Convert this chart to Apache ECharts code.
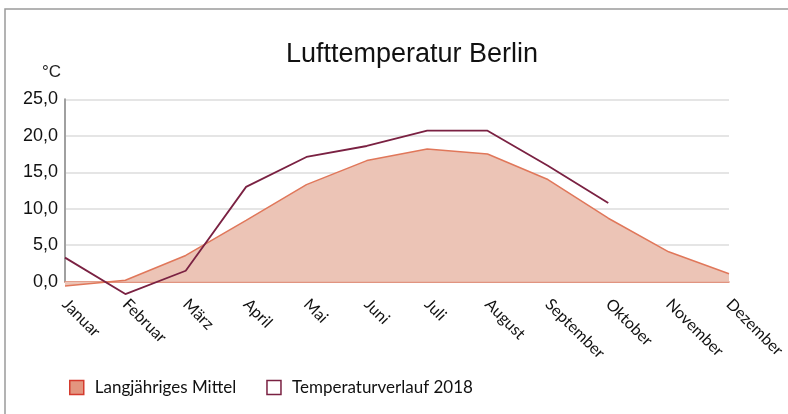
<!DOCTYPE html>
<html><head><meta charset="utf-8">
<script src="https://cdn.jsdelivr.net/npm/echarts@6/dist/echarts.min.js"></script>
<style>html,body{margin:0;padding:0;background:#fff}#c{width:788px;height:414px}</style>
</head><body><div id="c"></div>
<script>
const categories = ['Januar','Februar','März','April','Mai','Juni','Juli','August','September','Oktober','November','Dezember'];
const mittel = [-0.6, 0.2, 3.6, 8.4, 13.3, 16.6, 18.2, 17.5, 14.0, 8.7, 4.1, 1.1];
const temp2018 = [3.3, -1.7, 1.5, 13.0, 17.1, 18.6, 20.7, 20.7, 15.9, 10.8, null, null];
const yTicks = [0, 5, 10, 15, 20, 25];
const names = ['Langjähriges Mittel', 'Temperaturverlauf 2018'];

const chart = echarts.init(document.getElementById('c'), null, {renderer:'canvas'});
chart.setOption({
  animation:false,
  backgroundColor:'#fff',
  graphic:[{type:'rect', shape:{x:5, y:9, width:800, height:420}, style:{fill:'none', stroke:'#9a9a9a', lineWidth:1.5}, silent:true}],
  title:{text:'Lufttemperatur Berlin', left:281, top:36, textStyle:{fontFamily:'Liberation Sans', fontSize:27, fontWeight:'normal', color:'#111'}},
  grid:{left:65, right:59, top:99.3, bottom:132.3, containLabel:false},
  legend:{
    left:64, bottom:13, itemWidth:14, itemHeight:14, itemGap:30, icon:'rect',
    textStyle:{fontFamily:'Lato', fontSize:17, color:'#111', padding:[0,0,0,6]},
    data:[
      {name:names[0], itemStyle:{color:'#e3957f', borderColor:'#d43b2e', borderWidth:1.5}},
      {name:names[1], itemStyle:{color:'#fff', borderColor:'#7a2142', borderWidth:1.5}}
    ]
  },
  xAxis:{
    type:'category', data:categories, boundaryGap:false,
    axisLine:{show:true, onZero:true, lineStyle:{color:'#e07a5f', width:1.5}},
    axisTick:{show:false},
    axisLabel:{rotate:-45, margin:20, fontFamily:'Lato', fontSize:16, color:'#111', interval:0},
    splitLine:{show:false}
  },
  yAxis:{
    type:'value', min:0, max:25, interval:5,
    name:'°C', nameLocation:'end', nameGap:18,
    nameTextStyle:{fontFamily:'Liberation Sans', fontSize:17, color:'#222', align:'right', padding:[0,4,0,0]},
    axisLine:{show:true, lineStyle:{color:'#a0a0a0', width:2}},
    axisTick:{show:false},
    axisLabel:{margin:7, fontFamily:'Liberation Sans', fontSize:18, color:'#111',
      formatter:function(v){return yTicks.indexOf(v)>=0 ? v.toFixed(1).replace('.', ',') : '';}},
    splitLine:{show:true, lineStyle:{color:'#dcdcdc', width:1.5}}
  },
  series:[
    {name:names[0], type:'line', data:mittel, symbol:'none', smooth:false, clip:false,
      lineStyle:{color:'#e0775a', width:1.5},
      itemStyle:{color:'#e3957f'},
      areaStyle:{color:'#ecc4b6', opacity:1}, z:2},
    {name:names[1], type:'line', data:temp2018, symbol:'none', connectNulls:false, clip:false,
      lineStyle:{color:'#7a2142', width:1.8},
      itemStyle:{color:'#7a2142'}, z:3}
  ]
});
</script></body></html>
